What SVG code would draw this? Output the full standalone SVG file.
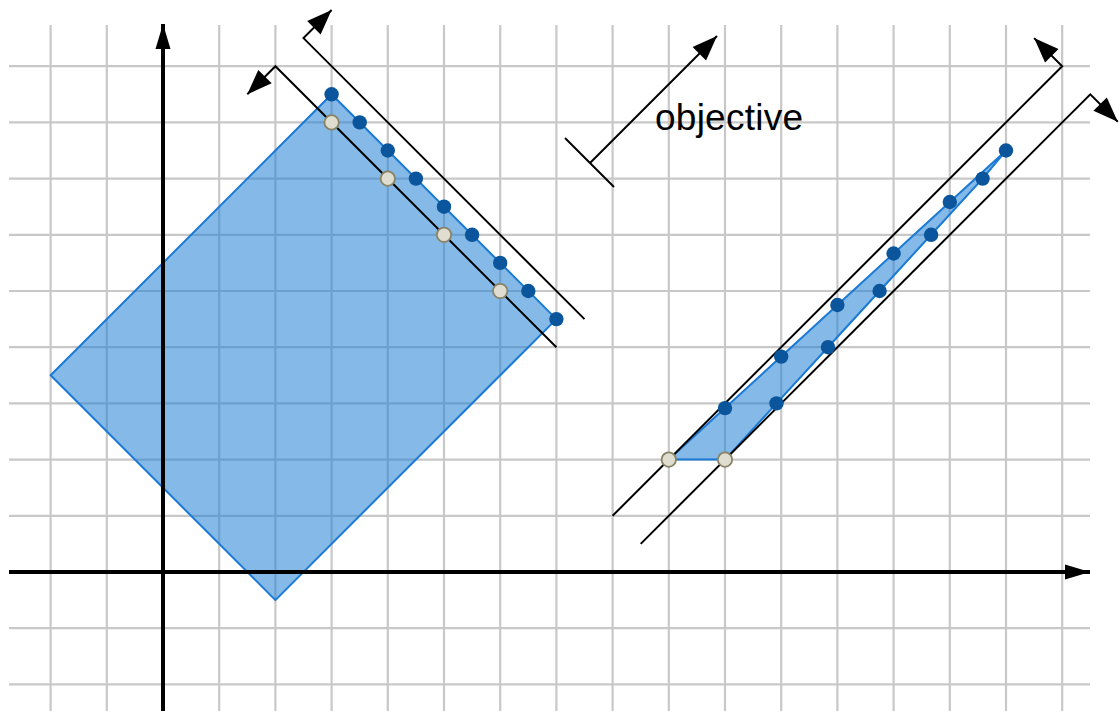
<svg xmlns="http://www.w3.org/2000/svg" width="1119" height="711" viewBox="0 0 1119 711">
<defs>
<style>
.grid line{stroke:#c8c8c8;stroke-width:2.2}
.axis{stroke:#000;stroke-width:4;fill:none}
.ln{stroke:#000;stroke-width:2;fill:none}
.poly{fill:#1f7fd6;fill-opacity:0.55;stroke:#1a7ad4;stroke-width:2;stroke-linejoin:round}
.bd{fill:#0a559b}
.gd{fill:#deddd0;stroke:#8a8466;stroke-width:1.8}
.lbl{font-family:"Liberation Sans",Arial,sans-serif;font-size:37px;fill:#000}
</style>
<marker id="ah" markerUnits="userSpaceOnUse" markerWidth="28" markerHeight="22" refX="25" refY="9.5" orient="auto" overflow="visible">
<path d="M0,0 L25,9.5 L0,19 z" fill="#000"/>
</marker>
<marker id="ax" markerUnits="userSpaceOnUse" markerWidth="28" markerHeight="18" refX="25" refY="7.5" orient="auto" overflow="visible">
<path d="M0,0 L25,7.5 L0,15 z" fill="#000"/>
</marker>
</defs>
<rect width="1119" height="711" fill="#fff"/>
<g id="grid" class="grid">
<line x1="50.6" y1="25" x2="50.6" y2="711"/>
<line x1="106.8" y1="25" x2="106.8" y2="711"/>
<line x1="219.2" y1="25" x2="219.2" y2="711"/>
<line x1="275.4" y1="25" x2="275.4" y2="711"/>
<line x1="331.6" y1="25" x2="331.6" y2="711"/>
<line x1="387.8" y1="25" x2="387.8" y2="711"/>
<line x1="444" y1="25" x2="444" y2="711"/>
<line x1="500.2" y1="25" x2="500.2" y2="711"/>
<line x1="556.4" y1="25" x2="556.4" y2="711"/>
<line x1="612.6" y1="25" x2="612.6" y2="711"/>
<line x1="668.8" y1="25" x2="668.8" y2="711"/>
<line x1="725" y1="25" x2="725" y2="711"/>
<line x1="781.2" y1="25" x2="781.2" y2="711"/>
<line x1="837.4" y1="25" x2="837.4" y2="711"/>
<line x1="893.6" y1="25" x2="893.6" y2="711"/>
<line x1="949.8" y1="25" x2="949.8" y2="711"/>
<line x1="1006" y1="25" x2="1006" y2="711"/>
<line x1="1062.2" y1="25" x2="1062.2" y2="711"/>
<line x1="9" y1="66.2" x2="1090" y2="66.2"/>
<line x1="9" y1="122.4" x2="1090" y2="122.4"/>
<line x1="9" y1="178.6" x2="1090" y2="178.6"/>
<line x1="9" y1="234.8" x2="1090" y2="234.8"/>
<line x1="9" y1="291" x2="1090" y2="291"/>
<line x1="9" y1="347.2" x2="1090" y2="347.2"/>
<line x1="9" y1="403.4" x2="1090" y2="403.4"/>
<line x1="9" y1="459.6" x2="1090" y2="459.6"/>
<line x1="9" y1="515.8" x2="1090" y2="515.8"/>
<line x1="9" y1="628.2" x2="1090" y2="628.2"/>
<line x1="9" y1="684.4" x2="1090" y2="684.4"/>
</g>
<g id="polygons">
<polygon id="left-region" class="poly" points="50.6,375.3 275.4,600.1 556.4,319.1 331.6,94.3"/>
<polygon id="right-region" class="poly" points="668.8,459.6 725,459.6 776.5,403.4 828,347.2 879.6,291 931.1,234.8 982.6,178.6 1006,150.5 949.8,202 893.6,253.5 837.4,305 781.2,356.6 725,408.1"/>
</g>
<g id="axes">
<line class="axis" x1="9" y1="572" x2="1090" y2="572" marker-end="url(#ax)"/>
<line class="axis" x1="163" y1="711" x2="163" y2="24" marker-end="url(#ax)"/>
</g>
<g id="connectors">
<polyline class="ln" points="556.4,347.2 275.4,66.2 247.3,94.3" marker-end="url(#ah)"/>
<polyline class="ln" points="584.5,319.1 303.5,38.1 331.6,10" marker-end="url(#ah)"/>
<polyline class="ln" points="612.6,515.8 1062.2,66.2 1034.1,38.1" marker-end="url(#ah)"/>
<polyline class="ln" points="640.7,543.9 1090.3,94.3 1117.8,121.8" marker-end="url(#ah)"/>
<line class="ln" x1="565" y1="138" x2="614" y2="187"/>
<line class="ln" x1="590" y1="163" x2="717" y2="36" marker-end="url(#ah)"/>
</g>
<g id="dots-left">
<circle class="bd" cx="331.6" cy="94.3" r="7.2"/>
<circle class="bd" cx="359.7" cy="122.4" r="7.2"/>
<circle class="bd" cx="387.8" cy="150.5" r="7.2"/>
<circle class="bd" cx="415.9" cy="178.6" r="7.2"/>
<circle class="bd" cx="444" cy="206.7" r="7.2"/>
<circle class="bd" cx="472.1" cy="234.8" r="7.2"/>
<circle class="bd" cx="500.2" cy="262.9" r="7.2"/>
<circle class="bd" cx="528.3" cy="291" r="7.2"/>
<circle class="bd" cx="556.4" cy="319.1" r="7.2"/>
<circle class="gd" cx="331.6" cy="122.4" r="7.2"/>
<circle class="gd" cx="387.8" cy="178.6" r="7.2"/>
<circle class="gd" cx="444" cy="234.8" r="7.2"/>
<circle class="gd" cx="500.2" cy="291" r="7.2"/>
</g>
<g id="dots-right">
<circle class="bd" cx="725" cy="408.1" r="7.2"/>
<circle class="bd" cx="781.2" cy="356.6" r="7.2"/>
<circle class="bd" cx="837.4" cy="305" r="7.2"/>
<circle class="bd" cx="893.6" cy="253.5" r="7.2"/>
<circle class="bd" cx="949.8" cy="202" r="7.2"/>
<circle class="bd" cx="1006" cy="150.5" r="7.2"/>
<circle class="bd" cx="776.5" cy="403.4" r="7.2"/>
<circle class="bd" cx="828" cy="347.2" r="7.2"/>
<circle class="bd" cx="879.6" cy="291" r="7.2"/>
<circle class="bd" cx="931.1" cy="234.8" r="7.2"/>
<circle class="bd" cx="982.6" cy="178.6" r="7.2"/>
<circle class="gd" cx="668.8" cy="459.6" r="7.2"/>
<circle class="gd" cx="725" cy="459.6" r="7.2"/>
</g>
<g id="label">
<text class="lbl" x="655" y="130" textLength="148" lengthAdjust="spacing">objective</text>
</g>
</svg>
